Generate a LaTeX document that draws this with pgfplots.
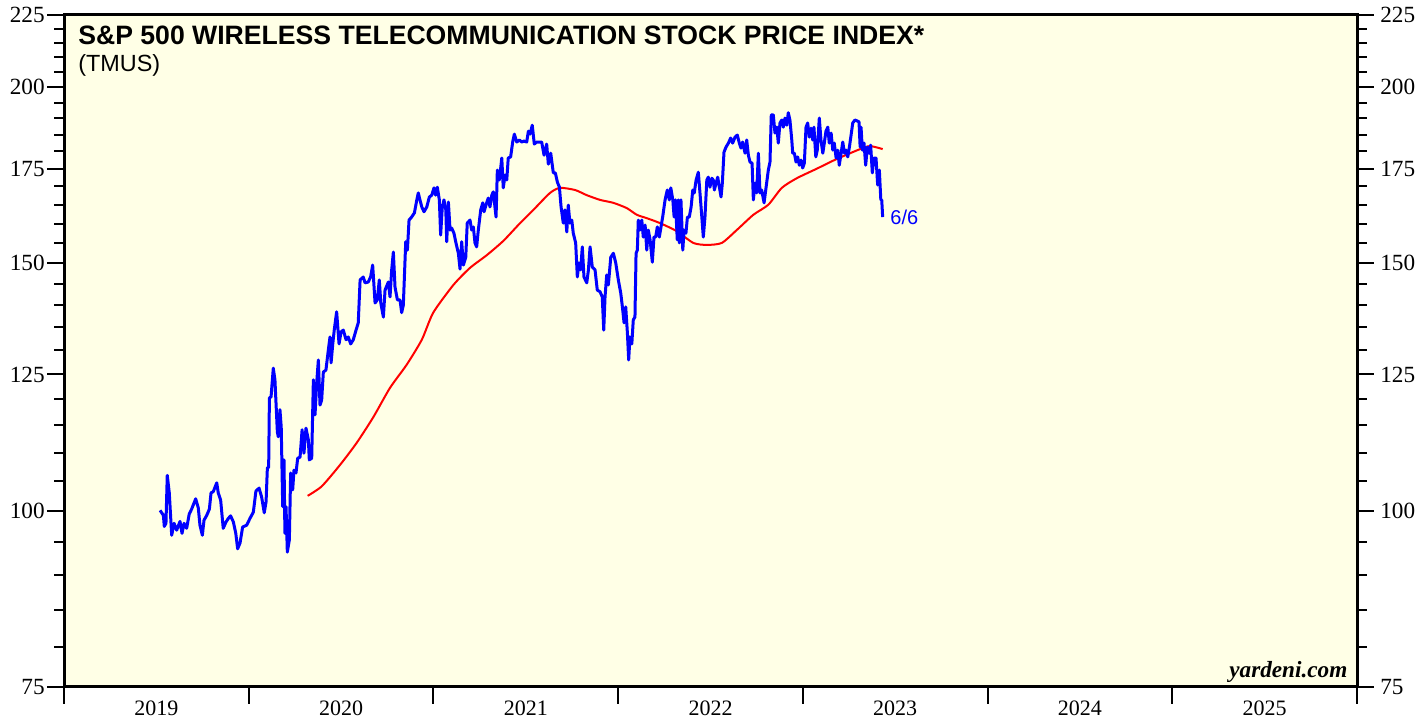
\documentclass[border=0pt]{standalone}
\usepackage{pgfplots}
\pgfplotsset{compat=1.18}
\usepackage{fontspec}
\setmainfont{Liberation Serif}
\newfontfamily\arial{Liberation Sans}
\definecolor{bgy}{RGB}{255,255,230}
\begin{document}
\begin{tikzpicture}
\begin{axis}[
  width=646.5pt, height=336pt, scale only axis,
  xmin=2019, xmax=2026, ymin=75, ymax=225, ymode=log,
  ytick={75,100,125,150,175,200,225},
  yticklabels={75,100,125,150,175,200,225},
  minor ytick={80,85,90,95,105,110,115,120,130,135,140,145,155,160,165,170,180,185,190,195,205,210,215,220},
  tick align=outside,
  major tick length=8.5pt, minor tick length=5pt,
  major tick style={line width=1pt, black},
  minor tick style={line width=1pt, black},
  at={(0,0)}, anchor=south west,
  axis background/.style={fill=bgy},
  axis line style={line width=1.5pt},
  ytick pos=left, yticklabel pos=left,
  y tick label style={font=\fontsize{11.6}{11.6}\selectfont, inner sep=0pt, anchor=east, xshift=-1pt},
  xtick pos=bottom,
  xtick={2019,2020,2021,2022,2023,2024,2025},
  xticklabels={2019,2020,2021,2022,2023,2024,2025},
  extra x ticks={2026}, extra x tick labels={},
  x tick label style={font=\fontsize{11}{11}\selectfont, inner sep=0pt, anchor=base, xshift=46.18pt, yshift=-6pt},
  clip=true,
]
\addplot[red, line width=1pt, line join=round, smooth, tension=0.4] coordinates {
(2020.319,102.5)(2020.395,104.1)(2020.494,107.8)(2020.585,111.8)(2020.675,116.6)(2020.765,122.3)(2020.855,127.0)(2020.937,132.3)(2020.999,138.3)(2021.108,144.7)(2021.198,148.8)(2021.288,151.9)(2021.378,155.5)(2021.469,160.1)(2021.541,163.6)(2021.631,168.2)(2021.685,169.6)(2021.767,169.0)(2021.830,167.6)(2021.902,166.3)(2021.974,165.5)(2022.046,164.1)(2022.101,162.3)(2022.155,161.4)(2022.227,160.1)(2022.317,158.0)(2022.407,155.0)(2022.480,154.5)(2022.561,155.0)(2022.642,158.3)(2022.732,162.3)(2022.813,165.0)(2022.886,169.6)(2022.967,172.3)(2023.075,175.0)(2023.183,177.8)(2023.310,180.7)(2023.364,181.6)(2023.432,180.7)
};
\addplot[blue, line width=1.5pt, line join=round] coordinates {
(2019.520,100.1)(2019.538,99.3)(2019.543,97.5)(2019.552,98.0)(2019.559,106.0)(2019.570,103.0)(2019.583,96.1)(2019.596,98.0)(2019.610,96.9)(2019.628,98.3)(2019.639,96.4)(2019.650,98.0)(2019.664,97.2)(2019.678,99.5)(2019.691,100.3)(2019.713,102.0)(2019.727,100.5)(2019.736,97.7)(2019.749,96.1)(2019.758,98.5)(2019.773,99.3)(2019.787,100.3)(2019.796,103.0)(2019.808,103.2)(2019.827,104.7)(2019.835,103.0)(2019.848,101.8)(2019.862,97.2)(2019.877,98.2)(2019.890,98.8)(2019.902,99.2)(2019.917,98.2)(2019.930,96.4)(2019.940,94.0)(2019.953,94.9)(2019.967,97.4)(2019.989,97.7)
(2020.007,98.8)(2020.025,99.8)(2020.039,103.3)(2020.056,103.8)(2020.070,102.3)(2020.084,99.7)(2020.094,101.5)(2020.101,107.3)(2020.108,107.4)(2020.112,120.3)(2020.121,120.5)(2020.133,126.3)(2020.142,123.9)(2020.155,113.8)(2020.160,112.9)(2020.169,118.0)(2020.176,114.7)(2020.184,100.7)(2020.191,108.7)(2020.196,96.4)(2020.202,100.7)(2020.209,93.5)(2020.220,95.4)(2020.227,106.4)(2020.238,103.5)(2020.245,106.9)(2020.256,106.4)(2020.265,109.0)(2020.278,109.2)(2020.289,114.2)(2020.299,109.9)(2020.310,114.5)(2020.323,112.3)(2020.328,108.7)(2020.341,109.0)(2020.350,123.9)(2020.359,117.0)(2020.368,123.3)(2020.377,128.0)(2020.386,118.9)(2020.395,119.9)(2020.404,125.5)(2020.418,125.9)(2020.431,130.1)(2020.440,132.9)(2020.446,127.4)(2020.455,131.4)(2020.463,134.4)(2020.476,138.5)(2020.489,131.4)(2020.500,134.0)(2020.512,134.4)(2020.527,132.3)(2020.539,132.9)(2020.552,131.4)(2020.566,132.3)(2020.581,134.4)(2020.593,136.0)(2020.603,145.9)(2020.620,146.6)(2020.630,145.2)(2020.647,145.4)(2020.660,146.6)(2020.671,149.5)(2020.684,140.5)(2020.696,141.2)(2020.707,145.9)(2020.715,140.5)(2020.729,137.3)(2020.738,143.5)(2020.756,145.4)(2020.765,141.9)(2020.774,148.3)(2020.783,152.7)(2020.792,144.2)(2020.805,141.2)(2020.819,141.2)(2020.828,138.3)(2020.837,140.0)(2020.850,155.3)(2020.859,153.2)(2020.868,160.9)(2020.882,161.7)(2020.897,162.8)(2020.910,166.3)(2020.918,168.2)(2020.927,166.3)(2020.937,164.4)(2020.949,163.1)(2020.964,164.4)(2020.978,167.1)(2020.991,167.6)
(2021.003,169.6)(2021.012,167.6)(2021.021,169.8)(2021.032,166.3)(2021.039,157.0)(2021.048,164.4)(2021.057,166.3)(2021.067,163.6)(2021.072,155.3)(2021.081,165.7)(2021.090,158.3)(2021.099,158.8)(2021.111,157.5)(2021.122,155.0)(2021.135,152.4)(2021.144,148.5)(2021.153,155.3)(2021.162,149.5)(2021.175,151.4)(2021.183,160.1)(2021.198,160.9)(2021.207,158.3)(2021.216,159.1)(2021.225,155.0)(2021.234,154.0)(2021.243,158.3)(2021.256,163.6)(2021.267,165.5)(2021.274,163.1)(2021.288,165.5)(2021.297,166.8)(2021.306,164.4)(2021.316,167.6)(2021.324,168.5)(2021.339,161.7)(2021.346,174.6)(2021.357,171.8)(2021.370,178.1)(2021.378,169.6)(2021.388,173.2)(2021.397,171.8)(2021.405,178.1)(2021.418,178.4)(2021.429,182.8)(2021.438,185.2)(2021.451,182.8)(2021.465,183.4)(2021.478,182.8)(2021.490,183.1)(2021.505,182.8)(2021.514,186.1)(2021.523,185.2)(2021.535,187.9)(2021.546,182.2)(2021.559,182.8)(2021.572,182.8)(2021.586,182.8)(2021.599,178.9)(2021.613,182.2)(2021.622,176.3)(2021.635,179.5)(2021.649,173.8)(2021.660,173.8)(2021.671,171.2)(2021.682,169.8)(2021.691,164.4)(2021.703,160.1)(2021.712,163.6)(2021.722,157.8)(2021.730,164.9)(2021.739,160.1)(2021.749,160.9)(2021.757,157.5)(2021.770,155.0)(2021.779,146.6)(2021.788,150.0)(2021.797,148.3)(2021.806,154.0)(2021.815,146.6)(2021.830,145.2)(2021.839,148.3)(2021.848,154.0)(2021.860,149.0)(2021.875,148.3)(2021.887,143.5)(2021.902,143.1)(2021.914,141.9)(2021.922,134.4)(2021.929,141.9)(2021.938,147.1)(2021.947,144.7)(2021.960,151.4)(2021.974,152.4)(2021.987,150.0)
(2022.001,145.9)(2022.014,142.8)(2022.023,139.6)(2022.032,136.0)(2022.041,139.6)(2022.050,133.8)(2022.057,128.0)(2022.064,132.9)(2022.074,131.4)(2022.082,136.7)(2022.091,137.3)(2022.097,152.4)(2022.104,153.2)(2022.109,160.9)(2022.118,158.3)(2022.128,160.9)(2022.136,156.5)(2022.146,159.6)(2022.155,153.2)(2022.163,158.3)(2022.173,155.8)(2022.185,150.2)(2022.194,156.5)(2022.203,156.5)(2022.212,159.1)(2022.223,156.5)(2022.241,161.7)(2022.254,166.3)(2022.266,169.0)(2022.277,166.3)(2022.285,169.6)(2022.296,166.3)(2022.303,161.7)(2022.310,166.3)(2022.320,155.8)(2022.326,166.3)(2022.331,155.0)(2022.340,166.3)(2022.350,153.2)(2022.357,158.3)(2022.367,157.5)(2022.375,161.7)(2022.385,161.7)(2022.395,164.4)(2022.404,169.0)(2022.412,168.2)(2022.422,171.8)(2022.434,174.0)(2022.443,168.2)(2022.453,161.7)(2022.461,156.5)(2022.470,161.7)(2022.480,171.8)(2022.488,172.6)(2022.497,169.8)(2022.507,172.3)(2022.515,171.8)(2022.521,169.0)(2022.530,170.9)(2022.539,172.6)(2022.548,169.8)(2022.557,167.1)(2022.564,170.9)(2022.573,179.8)(2022.584,181.3)(2022.597,182.5)(2022.609,184.0)(2022.620,182.5)(2022.633,184.3)(2022.645,184.9)(2022.656,182.5)(2022.665,181.0)(2022.674,182.8)(2022.687,179.5)(2022.696,183.4)(2022.705,178.9)(2022.714,176.9)(2022.725,176.6)(2022.732,166.3)(2022.741,170.9)(2022.750,168.2)(2022.759,179.5)(2022.768,168.2)(2022.777,169.0)(2022.790,165.5)(2022.801,169.8)(2022.813,174.6)(2022.822,176.9)(2022.829,191.1)(2022.840,191.1)(2022.849,185.5)(2022.859,187.3)(2022.867,182.5)(2022.876,188.6)(2022.886,189.5)(2022.894,187.3)(2022.903,190.1)(2022.913,187.9)(2022.921,191.8)(2022.930,189.5)(2022.940,183.4)(2022.945,179.5)(2022.954,179.5)(2022.963,176.9)(2022.972,178.4)(2022.981,176.0)(2022.990,177.5)(2022.999,175.2)
(2023.008,176.6)(2023.017,187.3)(2023.026,188.6)(2023.035,184.3)(2023.044,187.0)(2023.053,183.4)(2023.060,187.3)(2023.070,178.4)(2023.078,180.4)(2023.089,190.1)(2023.098,183.4)(2023.108,179.5)(2023.116,182.5)(2023.125,186.1)(2023.135,187.3)(2023.143,182.5)(2023.153,185.5)(2023.162,180.4)(2023.170,182.5)(2023.180,178.1)(2023.189,180.4)(2023.197,176.0)(2023.207,179.5)(2023.216,182.8)(2023.225,179.5)(2023.234,180.4)(2023.243,178.4)(2023.252,181.3)(2023.261,184.9)(2023.270,188.6)(2023.282,189.5)(2023.295,189.2)(2023.304,188.9)(2023.310,181.3)(2023.315,187.3)(2023.322,180.4)(2023.331,182.5)(2023.340,176.0)(2023.349,181.3)(2023.358,179.5)(2023.367,181.9)(2023.376,173.8)(2023.385,178.1)(2023.396,178.1)(2023.405,170.4)(2023.414,174.6)(2023.422,166.3)(2023.427,166.3)(2023.432,161.7)
};
\node[anchor=base west, inner sep=0pt, font=\arial\bfseries\fontsize{13.3}{13.3}\selectfont, xshift=7pt, yshift=-15pt] at (rel axis cs:0,1) {S\&P 500 WIRELESS TELECOMMUNICATION STOCK PRICE INDEX*};
\node[anchor=base west, inner sep=0pt, font=\arial\fontsize{11.7}{11.7}\selectfont, xshift=7pt, yshift=-28.25pt] at (rel axis cs:0,1) {(TMUS)};
\node[anchor=base east, inner sep=0pt, font=\bfseries\itshape\fontsize{11.6}{11.6}\selectfont, xshift=-4.65pt, yshift=4.5pt] at (rel axis cs:1,0) {yardeni.com};
\node[anchor=west, inner sep=0pt, text=blue, font=\arial\fontsize{10}{10}\selectfont] at (axis cs:2023.472,161.7) {6/6};
\end{axis}
\begin{axis}[
  width=646.5pt, height=336pt, scale only axis,
  xmin=2019, xmax=2026, ymin=75, ymax=225, ymode=log,
  at={(0,0)}, anchor=south west,
  hide x axis,
  axis y line*=right,
  ytick={75,100,125,150,175,200,225},
  yticklabels={75,100,125,150,175,200,225},
  minor ytick={80,85,90,95,105,110,115,120,130,135,140,145,155,160,165,170,180,185,190,195,205,210,215,220},
  tick align=outside,
  major tick length=8.5pt, minor tick length=5pt,
  major tick style={line width=1pt, black},
  minor tick style={line width=1pt, black},
  y axis line style={line width=1.5pt},
  y tick label style={font=\fontsize{11.6}{11.6}\selectfont, inner sep=0pt, anchor=west, xshift=3pt},
]
\addplot[draw=none] coordinates {(2020,100)};
\end{axis}
\pgfresetboundingbox
\path[use as bounding box] (-32pt,-16pt) rectangle (681.5pt,343.5pt);
\end{tikzpicture}
\end{document}
